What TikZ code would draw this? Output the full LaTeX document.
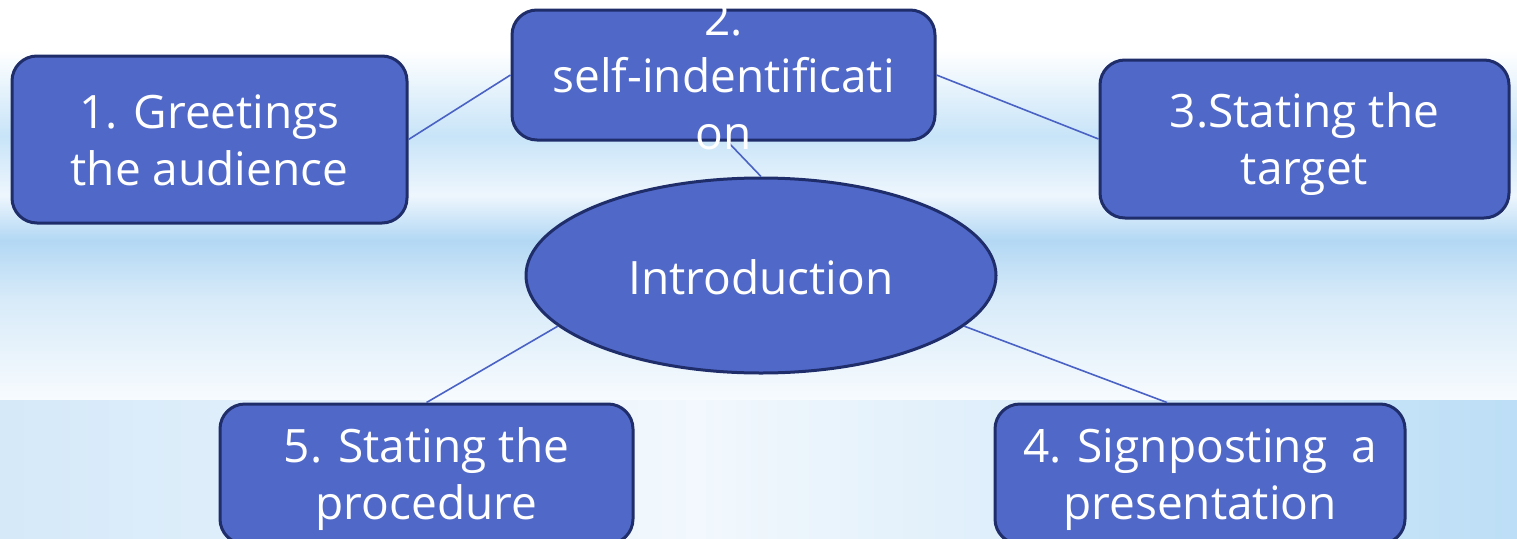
\documentclass[tikz,border=0pt]{standalone}
\usepackage{fontspec}
\setmainfont[Ligatures={NoCommon}]{Open Sans}
\usetikzlibrary{shapes.geometric,calc}
\definecolor{boxfill}{HTML}{5068C8}
\definecolor{boxline}{HTML}{1F2D6B}
\definecolor{conn}{HTML}{4A62C4}
\definecolor{bgA}{HTML}{C8E4F8}
\definecolor{bgB}{HTML}{EEF6FD}
\definecolor{bgC}{HTML}{B3D8F4}
\definecolor{bgD}{HTML}{D8EBF9}
\definecolor{bgE}{HTML}{F7FBFE}
\definecolor{bgL}{HTML}{D5E9F9}
\definecolor{bgM}{HTML}{F2F8FD}
\definecolor{bgR}{HTML}{BCDEF6}
\pgfdeclareverticalshading{bgtop}{100bp}{color(0bp)=(bgE); color(25bp)=(bgE); color(37.5bp)=(bgD); color(45bp)=(bgC); color(50.6bp)=(bgB); color(58bp)=(bgA); color(68.75bp)=(white); color(100bp)=(white)}
\pgfdeclarehorizontalshading{bgbot}{100bp}{color(0bp)=(bgL); color(25bp)=(bgL); color(48bp)=(bgM); color(75bp)=(bgR); color(100bp)=(bgR)}
\tikzset{
  box/.style={draw=boxline, line width=3pt, fill=boxfill, rounded corners=25pt, inner sep=0pt},
  oval/.style={ellipse, draw=boxline, line width=3pt, fill=boxfill, inner sep=0pt},
  txt/.style={text=white, align=center, font=\fontsize{46}{57}\selectfont},
  link/.style={draw=conn, line width=1.6pt}
}
\begin{document}
\begin{tikzpicture}[x=1pt,y=-1pt]
\useasboundingbox (0,0) rectangle (1517,538);
\shade[shading=bgtop] (0,0) rectangle (1517,400);
\shade[shading=bgbot] (0,400) rectangle (1517,538);

\node[box, minimum width=395pt, minimum height=167pt] (b1) at (209.5,139.5) {};
\node[box, minimum width=423pt, minimum height=130pt] (b2) at (723.5,75) {};
\node[box, minimum width=409pt, minimum height=158pt] (b3) at (1304.5,139) {};
\node[oval, minimum width=470pt, minimum height=195pt] (e) at (761,275.5) {};
\node[box, minimum width=413pt, minimum height=140pt] (b5) at (426.5,474) {};
\node[box, minimum width=410pt, minimum height=140pt] (b4) at (1200,474) {};

\coordinate (b2s) at ($(b2.south)+(4,0)$);
\coordinate (b4n) at ($(b4.north)+(-33,0)$);
\draw[link] (b1.east) -- (b2.west);
\draw[link] (b2.east) -- (b3.west);
\draw[link] (b2s) -- (e.north);
\draw[link] (e.194) -- (b5.north);
\draw[link] (e.346) -- (b4n);

\node[txt, yshift=-6pt] (t1) at (b1) {\strut1. Greetings\\\strut the audience};
\node[txt, yshift=-6pt] (t2) at (b2) {\strut2.\\\strut self-indentificati\\\strut on};
\node[txt, yshift=-6pt] (t3) at (b3) {\strut3.Stating the\\\strut target};
\node[txt, yshift=-8pt] (te) at (e) {\strut Introduction};
\node[txt, yshift=-6pt] (t5) at (b5) {\strut5. Stating the\\\strut procedure};
\node[txt, yshift=-6pt] (t4) at (b4) {\strut4. Signposting\ \ a\\\strut presentation};
\end{tikzpicture}
\end{document}
